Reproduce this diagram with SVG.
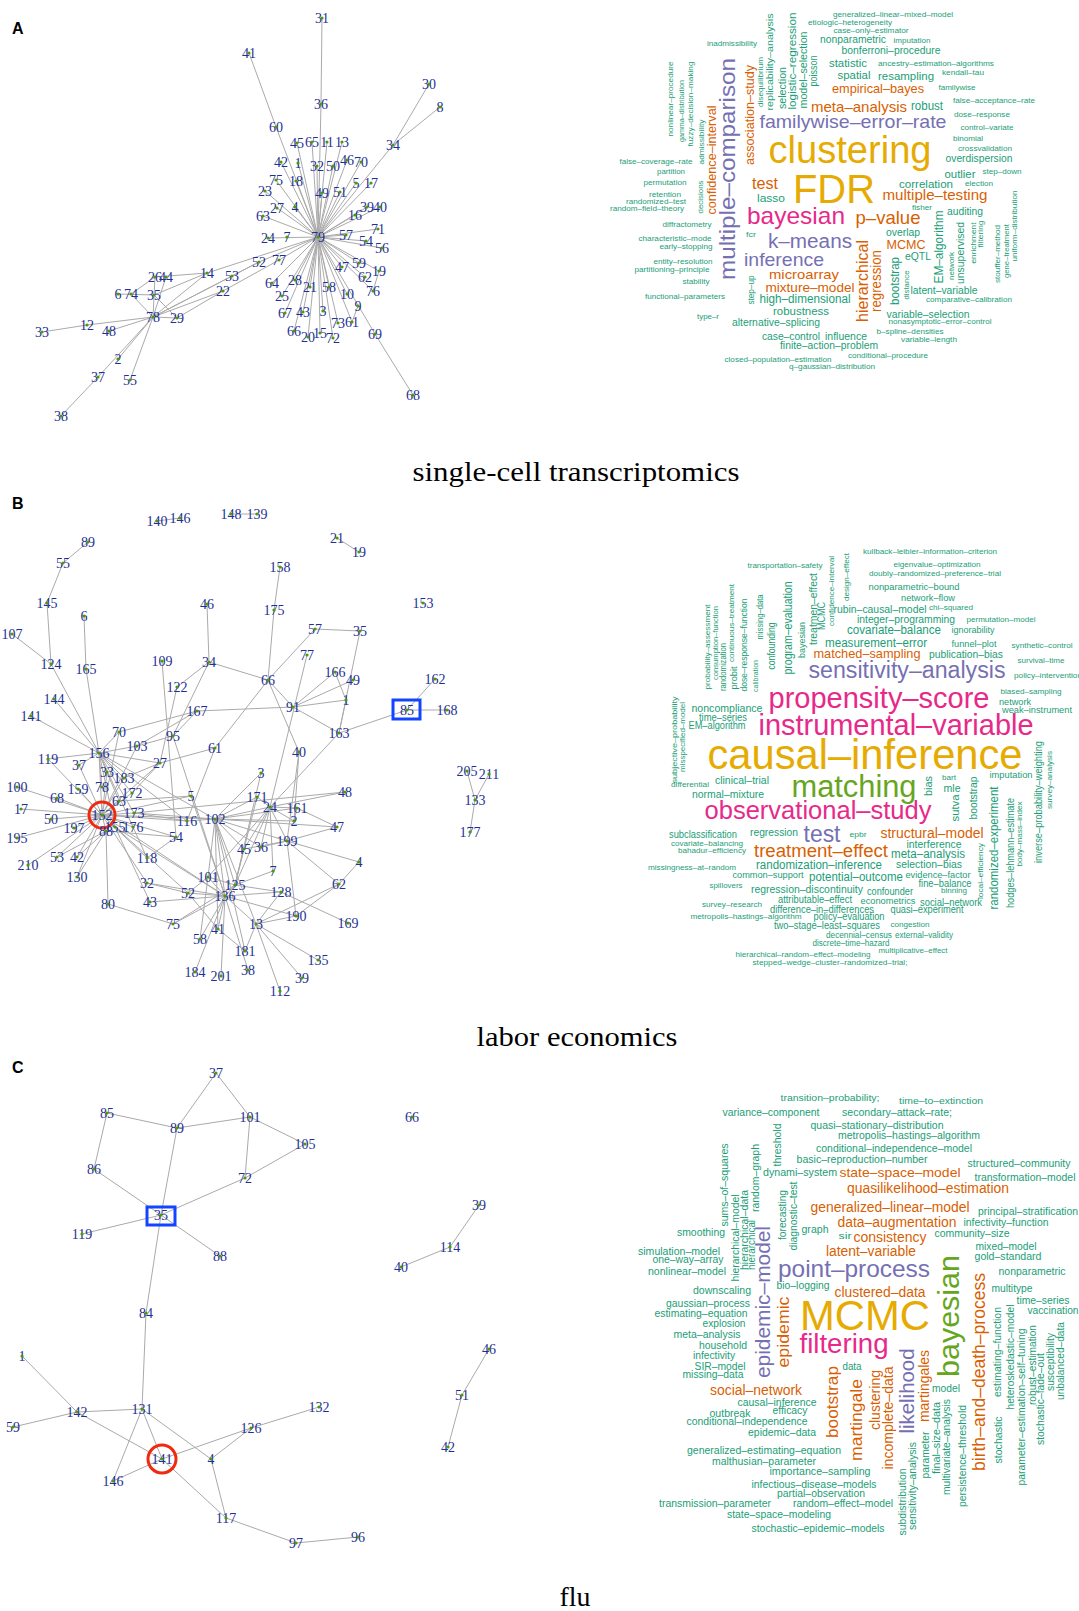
<svg xmlns="http://www.w3.org/2000/svg" width="1079" height="1611" viewBox="0 0 1079 1611">
<style>
.bg{fill:#fff}
.e line{stroke:#aaa;stroke-width:1}
.n text{font-family:"Liberation Serif","Times New Roman",serif;font-size:14px;fill:#1f2f95;text-anchor:middle;dominant-baseline:central}
.n circle{fill:#4e9a06}
.n .hl{fill:none;stroke-width:3}
.n .red{stroke:#f02a10}.n .blue{stroke:#1444ff}
.pl{font-family:"Liberation Sans",Arial,sans-serif;font-weight:bold;font-size:16px;fill:#000}
.cap{font-family:"Liberation Serif","Times New Roman",serif;font-size:28px;fill:#000;text-anchor:middle}
.wc text{font-family:"Liberation Sans",Arial,sans-serif;text-anchor:middle}
.g{fill:#1B9E77}.o{fill:#D95F02}.p{fill:#7570B3}.k{fill:#E7298A}.y{fill:#E6AB02}.l{fill:#66A61E}
</style>
<rect class="bg" x="0" y="0" width="1079" height="1611"/>
<text class="pl" x="12" y="34">A</text>
<text class="pl" x="12" y="509">B</text>
<text class="pl" x="12" y="1073">C</text>
<text class="cap" x="576" y="481" textLength="327" lengthAdjust="spacingAndGlyphs">single-cell transcriptomics</text>
<text class="cap" x="577" y="1046" textLength="201" lengthAdjust="spacingAndGlyphs">labor economics</text>
<text class="cap" x="575" y="1606" textLength="31" lengthAdjust="spacingAndGlyphs">flu</text>

<g id="edges-a" class="e">
<line x1="322" y1="18" x2="321" y2="104"/><line x1="321" y1="104" x2="318" y2="237"/>
<line x1="249" y1="53" x2="276" y2="127"/><line x1="276" y1="127" x2="318" y2="237"/>
<line x1="429" y1="84" x2="393" y2="145"/><line x1="440" y1="107" x2="393" y2="145"/><line x1="393" y1="145" x2="318" y2="237"/>
<line x1="318" y1="237" x2="297" y2="143"/><line x1="318" y1="237" x2="312" y2="142"/><line x1="318" y1="237" x2="327" y2="142"/><line x1="318" y1="237" x2="342" y2="142"/>
<line x1="318" y1="237" x2="281" y2="162"/><line x1="318" y1="237" x2="298" y2="163"/><line x1="318" y1="237" x2="317" y2="166"/><line x1="318" y1="237" x2="333" y2="166"/>
<line x1="318" y1="237" x2="347" y2="160"/><line x1="318" y1="237" x2="361" y2="162"/><line x1="318" y1="237" x2="276" y2="180"/><line x1="318" y1="237" x2="296" y2="181"/>
<line x1="318" y1="237" x2="356" y2="183"/><line x1="318" y1="237" x2="371" y2="183"/><line x1="318" y1="237" x2="265" y2="191"/><line x1="318" y1="237" x2="322" y2="193"/>
<line x1="318" y1="237" x2="340" y2="192"/><line x1="318" y1="237" x2="277" y2="208"/><line x1="318" y1="237" x2="295" y2="207"/><line x1="318" y1="237" x2="367" y2="207"/>
<line x1="318" y1="237" x2="380" y2="207"/><line x1="318" y1="237" x2="355" y2="215"/><line x1="318" y1="237" x2="263" y2="216"/><line x1="318" y1="237" x2="378" y2="229"/>
<line x1="268" y1="238" x2="318" y2="237"/><line x1="318" y1="237" x2="346" y2="235"/><line x1="318" y1="237" x2="366" y2="241"/><line x1="318" y1="237" x2="382" y2="248"/>
<line x1="318" y1="237" x2="359" y2="263"/><line x1="318" y1="237" x2="379" y2="271"/><line x1="318" y1="237" x2="342" y2="267"/><line x1="318" y1="237" x2="365" y2="277"/>
<line x1="318" y1="237" x2="373" y2="291"/><line x1="318" y1="237" x2="272" y2="283"/><line x1="318" y1="237" x2="295" y2="280"/><line x1="318" y1="237" x2="310" y2="287"/>
<line x1="318" y1="237" x2="329" y2="287"/><line x1="318" y1="237" x2="347" y2="294"/><line x1="318" y1="237" x2="282" y2="296"/><line x1="318" y1="237" x2="285" y2="313"/>
<line x1="318" y1="237" x2="303" y2="312"/><line x1="318" y1="237" x2="323" y2="311"/><line x1="318" y1="237" x2="338" y2="323"/><line x1="318" y1="237" x2="352" y2="322"/>
<line x1="318" y1="237" x2="294" y2="331"/><line x1="318" y1="237" x2="308" y2="337"/><line x1="318" y1="237" x2="320" y2="333"/><line x1="318" y1="237" x2="333" y2="338"/>
<line x1="318" y1="237" x2="375" y2="334"/><line x1="375" y1="334" x2="413" y2="395"/><line x1="358" y1="306" x2="352" y2="322"/><line x1="379" y1="271" x2="373" y2="291"/>
<line x1="318" y1="237" x2="207" y2="273"/><line x1="318" y1="237" x2="259" y2="262"/><line x1="318" y1="237" x2="279" y2="260"/>
<line x1="259" y1="262" x2="232" y2="276"/><line x1="279" y1="260" x2="223" y2="291"/>
<line x1="153" y1="317" x2="207" y2="273"/><line x1="153" y1="317" x2="232" y2="276"/><line x1="153" y1="317" x2="223" y2="291"/><line x1="153" y1="317" x2="259" y2="262"/>
<line x1="177" y1="318" x2="223" y2="291"/><line x1="155" y1="277" x2="207" y2="273"/><line x1="131" y1="294" x2="155" y2="277"/>
<line x1="155" y1="277" x2="153" y2="317"/><line x1="166" y1="277" x2="153" y2="317"/><line x1="118" y1="294" x2="154" y2="295"/><line x1="131" y1="294" x2="153" y2="317"/>
<line x1="154" y1="295" x2="177" y2="318"/><line x1="154" y1="295" x2="207" y2="273"/><line x1="153" y1="317" x2="177" y2="318"/>
<line x1="153" y1="317" x2="87" y2="325"/><line x1="87" y1="325" x2="42" y2="332"/><line x1="153" y1="317" x2="109" y2="331"/>
<line x1="153" y1="317" x2="118" y2="359"/><line x1="153" y1="317" x2="98" y2="377"/><line x1="98" y1="377" x2="61" y2="416"/><line x1="153" y1="317" x2="130" y2="380"/>
</g>

<g id="nodes-a" class="n">
<g id="a79"><text x="318" y="237">79</text><circle cx="318" cy="237" r="1.6"/></g>
<g id="a31"><text x="322" y="18">31</text><circle cx="322" cy="18" r="1.6"/></g>
<g id="a41"><text x="249" y="53">41</text><circle cx="249" cy="53" r="1.6"/></g>
<g id="a36"><text x="321" y="104">36</text><circle cx="321" cy="104" r="1.6"/></g>
<g id="a30"><text x="429" y="84">30</text><circle cx="429" cy="84" r="1.6"/></g>
<g id="a8"><text x="440" y="107">8</text><circle cx="440" cy="107" r="1.6"/></g>
<g id="a34"><text x="393" y="145">34</text><circle cx="393" cy="145" r="1.6"/></g>
<g id="a60"><text x="276" y="127">60</text><circle cx="276" cy="127" r="1.6"/></g>
<g id="a45"><text x="297" y="143">45</text><circle cx="297" cy="143" r="1.6"/></g>
<g id="a65"><text x="312" y="142">65</text><circle cx="312" cy="142" r="1.6"/></g>
<g id="a11"><text x="327" y="142">11</text><circle cx="327" cy="142" r="1.6"/></g>
<g id="a13"><text x="342" y="142">13</text><circle cx="342" cy="142" r="1.6"/></g>
<g id="a42"><text x="281" y="162">42</text><circle cx="281" cy="162" r="1.6"/></g>
<g id="a1"><text x="298" y="163">1</text><circle cx="298" cy="163" r="1.6"/></g>
<g id="a32"><text x="317" y="166">32</text><circle cx="317" cy="166" r="1.6"/></g>
<g id="a50"><text x="333" y="166">50</text><circle cx="333" cy="166" r="1.6"/></g>
<g id="a46"><text x="347" y="160">46</text><circle cx="347" cy="160" r="1.6"/></g>
<g id="a70"><text x="361" y="162">70</text><circle cx="361" cy="162" r="1.6"/></g>
<g id="a75"><text x="276" y="180">75</text><circle cx="276" cy="180" r="1.6"/></g>
<g id="a18"><text x="296" y="181">18</text><circle cx="296" cy="181" r="1.6"/></g>
<g id="a5"><text x="356" y="183">5</text><circle cx="356" cy="183" r="1.6"/></g>
<g id="a17"><text x="371" y="183">17</text><circle cx="371" cy="183" r="1.6"/></g>
<g id="a23"><text x="265" y="191">23</text><circle cx="265" cy="191" r="1.6"/></g>
<g id="a49"><text x="322" y="193">49</text><circle cx="322" cy="193" r="1.6"/></g>
<g id="a51"><text x="340" y="192">51</text><circle cx="340" cy="192" r="1.6"/></g>
<g id="a27"><text x="277" y="208">27</text><circle cx="277" cy="208" r="1.6"/></g>
<g id="a4"><text x="295" y="207">4</text><circle cx="295" cy="207" r="1.6"/></g>
<g id="a39"><text x="367" y="207">39</text><circle cx="367" cy="207" r="1.6"/></g>
<g id="a40"><text x="380" y="207">40</text><circle cx="380" cy="207" r="1.6"/></g>
<g id="a16"><text x="355" y="215">16</text><circle cx="355" cy="215" r="1.6"/></g>
<g id="a63"><text x="263" y="216">63</text><circle cx="263" cy="216" r="1.6"/></g>
<g id="a71"><text x="378" y="229">71</text><circle cx="378" cy="229" r="1.6"/></g>
<g id="a24"><text x="268" y="238">24</text><circle cx="268" cy="238" r="1.6"/></g>
<g id="a7"><text x="287" y="237">7</text><circle cx="287" cy="237" r="1.6"/></g>
<g id="a57"><text x="346" y="235">57</text><circle cx="346" cy="235" r="1.6"/></g>
<g id="a54"><text x="366" y="241">54</text><circle cx="366" cy="241" r="1.6"/></g>
<g id="a56"><text x="382" y="248">56</text><circle cx="382" cy="248" r="1.6"/></g>
<g id="a52"><text x="259" y="262">52</text><circle cx="259" cy="262" r="1.6"/></g>
<g id="a77"><text x="279" y="260">77</text><circle cx="279" cy="260" r="1.6"/></g>
<g id="a59"><text x="359" y="263">59</text><circle cx="359" cy="263" r="1.6"/></g>
<g id="a19"><text x="379" y="271">19</text><circle cx="379" cy="271" r="1.6"/></g>
<g id="a47"><text x="342" y="267">47</text><circle cx="342" cy="267" r="1.6"/></g>
<g id="a62"><text x="365" y="277">62</text><circle cx="365" cy="277" r="1.6"/></g>
<g id="a76"><text x="373" y="291">76</text><circle cx="373" cy="291" r="1.6"/></g>
<g id="a64"><text x="272" y="283">64</text><circle cx="272" cy="283" r="1.6"/></g>
<g id="a28"><text x="295" y="280">28</text><circle cx="295" cy="280" r="1.6"/></g>
<g id="a21"><text x="310" y="287">21</text><circle cx="310" cy="287" r="1.6"/></g>
<g id="a58"><text x="329" y="287">58</text><circle cx="329" cy="287" r="1.6"/></g>
<g id="a10"><text x="347" y="294">10</text><circle cx="347" cy="294" r="1.6"/></g>
<g id="a9"><text x="358" y="306">9</text><circle cx="358" cy="306" r="1.6"/></g>
<g id="a25"><text x="282" y="296">25</text><circle cx="282" cy="296" r="1.6"/></g>
<g id="a67"><text x="285" y="313">67</text><circle cx="285" cy="313" r="1.6"/></g>
<g id="a43"><text x="303" y="312">43</text><circle cx="303" cy="312" r="1.6"/></g>
<g id="a3"><text x="323" y="311">3</text><circle cx="323" cy="311" r="1.6"/></g>
<g id="a73"><text x="338" y="323">73</text><circle cx="338" cy="323" r="1.6"/></g>
<g id="a61"><text x="352" y="322">61</text><circle cx="352" cy="322" r="1.6"/></g>
<g id="a69"><text x="375" y="334">69</text><circle cx="375" cy="334" r="1.6"/></g>
<g id="a66"><text x="294" y="331">66</text><circle cx="294" cy="331" r="1.6"/></g>
<g id="a20"><text x="308" y="337">20</text><circle cx="308" cy="337" r="1.6"/></g>
<g id="a15"><text x="320" y="333">15</text><circle cx="320" cy="333" r="1.6"/></g>
<g id="a72"><text x="333" y="338">72</text><circle cx="333" cy="338" r="1.6"/></g>
<g id="a68"><text x="413" y="395">68</text><circle cx="413" cy="395" r="1.6"/></g>
<g id="a14"><text x="207" y="273">14</text><circle cx="207" cy="273" r="1.6"/></g>
<g id="a53"><text x="232" y="276">53</text><circle cx="232" cy="276" r="1.6"/></g>
<g id="a22"><text x="223" y="291">22</text><circle cx="223" cy="291" r="1.6"/></g>
<g id="a26"><text x="155" y="277">26</text><circle cx="155" cy="277" r="1.6"/></g>
<g id="a44"><text x="166" y="277">44</text><circle cx="166" cy="277" r="1.6"/></g>
<g id="a6"><text x="118" y="294">6</text><circle cx="118" cy="294" r="1.6"/></g>
<g id="a74"><text x="131" y="294">74</text><circle cx="131" cy="294" r="1.6"/></g>
<g id="a35"><text x="154" y="295">35</text><circle cx="154" cy="295" r="1.6"/></g>
<g id="a78"><text x="153" y="317">78</text><circle cx="153" cy="317" r="1.6"/></g>
<g id="a29"><text x="177" y="318">29</text><circle cx="177" cy="318" r="1.6"/></g>
<g id="a12"><text x="87" y="325">12</text><circle cx="87" cy="325" r="1.6"/></g>
<g id="a33"><text x="42" y="332">33</text><circle cx="42" cy="332" r="1.6"/></g>
<g id="a48"><text x="109" y="331">48</text><circle cx="109" cy="331" r="1.6"/></g>
<g id="a2"><text x="118" y="359">2</text><circle cx="118" cy="359" r="1.6"/></g>
<g id="a37"><text x="98" y="377">37</text><circle cx="98" cy="377" r="1.6"/></g>
<g id="a55"><text x="130" y="380">55</text><circle cx="130" cy="380" r="1.6"/></g>
<g id="a38"><text x="61" y="416">38</text><circle cx="61" cy="416" r="1.6"/></g>
</g>

<g id="wordcloud-a" class="wc">
<text class="g" x="893" y="17" font-size="8" textLength="120" lengthAdjust="spacingAndGlyphs">generalized–linear–mixed–model</text>
<text class="g" x="850" y="25" font-size="8" textLength="84" lengthAdjust="spacingAndGlyphs">etiologic–heterogeneity</text>
<text class="g" x="871" y="33" font-size="8" textLength="75" lengthAdjust="spacingAndGlyphs">case–only–estimator</text>
<text class="g" x="853" y="43" font-size="10.5" textLength="66" lengthAdjust="spacingAndGlyphs">nonparametric</text>
<text class="g" x="912" y="43" font-size="8" textLength="37" lengthAdjust="spacingAndGlyphs">imputation</text>
<text class="g" x="891" y="54" font-size="10" textLength="99" lengthAdjust="spacingAndGlyphs">bonferroni–procedure</text>
<text class="g" x="848" y="67" font-size="11" textLength="38" lengthAdjust="spacingAndGlyphs">statistic</text>
<text class="g" x="936" y="66" font-size="8" textLength="116" lengthAdjust="spacingAndGlyphs">ancestry–estimation–algorithms</text>
<text class="g" x="854" y="79" font-size="11" textLength="33" lengthAdjust="spacingAndGlyphs">spatial</text>
<text class="g" x="906" y="80" font-size="11.5" textLength="56" lengthAdjust="spacingAndGlyphs">resampling</text>
<text class="g" x="963" y="75" font-size="8" textLength="42" lengthAdjust="spacingAndGlyphs">kendall–tau</text>
<text class="o" x="878" y="93" font-size="13" textLength="92" lengthAdjust="spacingAndGlyphs">empirical–bayes</text>
<text class="g" x="957" y="90" font-size="8" textLength="37" lengthAdjust="spacingAndGlyphs">familywise</text>
<text class="g" x="994" y="103" font-size="8" textLength="82" lengthAdjust="spacingAndGlyphs">false–acceptance–rate</text>
<text class="o" x="859" y="112" font-size="15" textLength="96" lengthAdjust="spacingAndGlyphs">meta–analysis</text>
<text class="g" x="927" y="110" font-size="12" textLength="32" lengthAdjust="spacingAndGlyphs">robust</text>
<text class="g" x="982" y="117" font-size="8" textLength="56" lengthAdjust="spacingAndGlyphs">dose–response</text>
<text class="p" x="853" y="128" font-size="19" textLength="187" lengthAdjust="spacingAndGlyphs">familywise–error–rate</text>
<text class="g" x="987" y="130" font-size="8" textLength="53" lengthAdjust="spacingAndGlyphs">control–variate</text>
<text class="g" x="968" y="141" font-size="8" textLength="30" lengthAdjust="spacingAndGlyphs">binomial</text>
<text class="g" x="985" y="151" font-size="8" textLength="54" lengthAdjust="spacingAndGlyphs">crossvalidation</text>
<text class="y" x="850" y="163" font-size="38" textLength="163" lengthAdjust="spacingAndGlyphs">clustering</text>
<text class="g" x="979" y="162" font-size="10" textLength="67" lengthAdjust="spacingAndGlyphs">overdispersion</text>
<text class="g" x="732" y="46" font-size="8" textLength="50" lengthAdjust="spacingAndGlyphs">inadmissibility</text>
<text class="g" x="656" y="164" font-size="8" textLength="73" lengthAdjust="spacingAndGlyphs">false–coverage–rate</text>
<text class="g" x="671" y="174" font-size="8" textLength="28" lengthAdjust="spacingAndGlyphs">partition</text>
<text class="g" x="665" y="185" font-size="8" textLength="43" lengthAdjust="spacingAndGlyphs">permutation</text>
<text class="g" x="665" y="197" font-size="8" textLength="32" lengthAdjust="spacingAndGlyphs">retention</text>
<text class="g" x="656" y="204" font-size="8" textLength="60" lengthAdjust="spacingAndGlyphs">randomized–test</text>
<text class="g" x="647" y="211" font-size="8" textLength="74" lengthAdjust="spacingAndGlyphs">random–field–theory</text>
<text class="g" x="960" y="178" font-size="11" textLength="31" lengthAdjust="spacingAndGlyphs">outlier</text>
<text class="g" x="1002" y="174" font-size="8" textLength="39" lengthAdjust="spacingAndGlyphs">step–down</text>
<text class="g" x="926" y="188" font-size="11" textLength="54" lengthAdjust="spacingAndGlyphs">correlation</text>
<text class="g" x="979" y="186" font-size="8" textLength="28" lengthAdjust="spacingAndGlyphs">election</text>
<text class="o" x="765" y="189" font-size="16" textLength="26" lengthAdjust="spacingAndGlyphs">test</text>
<text class="y" x="834" y="203" font-size="40" textLength="82" lengthAdjust="spacingAndGlyphs">FDR</text>
<text class="o" x="935" y="200" font-size="15" textLength="105" lengthAdjust="spacingAndGlyphs">multiple–testing</text>
<text class="g" x="771" y="202" font-size="11" textLength="28" lengthAdjust="spacingAndGlyphs">lasso</text>
<text class="g" x="922" y="210" font-size="8" textLength="20" lengthAdjust="spacingAndGlyphs">fisher</text>
<text class="g" x="965" y="215" font-size="10" textLength="36" lengthAdjust="spacingAndGlyphs">auditing</text>
<text class="k" x="796" y="224" font-size="24" textLength="98" lengthAdjust="spacingAndGlyphs">bayesian</text>
<text class="o" x="888" y="224" font-size="19" textLength="65" lengthAdjust="spacingAndGlyphs">p–value</text>
<text class="g" x="687" y="227" font-size="8" textLength="49" lengthAdjust="spacingAndGlyphs">diffractometry</text>
<text class="g" x="751" y="237" font-size="7" textLength="10" lengthAdjust="spacingAndGlyphs">fcr</text>
<text class="g" x="675" y="241" font-size="8" textLength="73" lengthAdjust="spacingAndGlyphs">characteristic–mode</text>
<text class="g" x="686" y="249" font-size="8" textLength="53" lengthAdjust="spacingAndGlyphs">early–stopping</text>
<text class="g" x="903" y="236" font-size="10" textLength="34" lengthAdjust="spacingAndGlyphs">overlap</text>
<text class="o" x="906" y="249" font-size="13" textLength="39" lengthAdjust="spacingAndGlyphs">MCMC</text>
<text class="p" x="810" y="248" font-size="20" textLength="84" lengthAdjust="spacingAndGlyphs">k–means</text>
<text class="g" x="918" y="260" font-size="10" textLength="26" lengthAdjust="spacingAndGlyphs">eQTL</text>
<text class="p" x="784" y="266" font-size="19" textLength="80" lengthAdjust="spacingAndGlyphs">inference</text>
<text class="g" x="683" y="264" font-size="8" textLength="59" lengthAdjust="spacingAndGlyphs">entity–resolution</text>
<text class="g" x="672" y="272" font-size="8" textLength="75" lengthAdjust="spacingAndGlyphs">partitioning–principle</text>
<text class="o" x="804" y="279" font-size="13" textLength="70" lengthAdjust="spacingAndGlyphs">microarray</text>
<text class="g" x="696" y="284" font-size="8" textLength="27" lengthAdjust="spacingAndGlyphs">stability</text>
<text class="o" x="810" y="292" font-size="12" textLength="89" lengthAdjust="spacingAndGlyphs">mixture–model</text>
<text class="g" x="944" y="294" font-size="11" textLength="67" lengthAdjust="spacingAndGlyphs">latent–variable</text>
<text class="g" x="685" y="299" font-size="8" textLength="80" lengthAdjust="spacingAndGlyphs">functional–parameters</text>
<text class="g" x="969" y="302" font-size="8" textLength="86" lengthAdjust="spacingAndGlyphs">comparative–calibration</text>
<text class="g" x="805" y="303" font-size="12" textLength="91" lengthAdjust="spacingAndGlyphs">high–dimensional</text>
<text class="g" x="801" y="315" font-size="10.5" textLength="56" lengthAdjust="spacingAndGlyphs">robustness</text>
<text class="g" x="928" y="318" font-size="11" textLength="83" lengthAdjust="spacingAndGlyphs">variable–selection</text>
<text class="g" x="708" y="319" font-size="7.5" textLength="22" lengthAdjust="spacingAndGlyphs">type–r</text>
<text class="g" x="776" y="326" font-size="10" textLength="88" lengthAdjust="spacingAndGlyphs">alternative–splicing</text>
<text class="g" x="940" y="324" font-size="8" textLength="103" lengthAdjust="spacingAndGlyphs">nonasymptotic–error–control</text>
<text class="g" x="910" y="334" font-size="8" textLength="67" lengthAdjust="spacingAndGlyphs">b–spline–densities</text>
<text class="g" x="791" y="340" font-size="10" textLength="58" lengthAdjust="spacingAndGlyphs">case–control</text>
<text class="g" x="846" y="340" font-size="10" textLength="42" lengthAdjust="spacingAndGlyphs">influence</text>
<text class="g" x="929" y="342" font-size="8" textLength="56" lengthAdjust="spacingAndGlyphs">variable–length</text>
<text class="g" x="829" y="349" font-size="10" textLength="98" lengthAdjust="spacingAndGlyphs">finite–action–problem</text>
<text class="g" x="888" y="358" font-size="8" textLength="80" lengthAdjust="spacingAndGlyphs">conditional–procedure</text>
<text class="g" x="778" y="362" font-size="8" textLength="107" lengthAdjust="spacingAndGlyphs">closed–population–estimation</text>
<text class="g" x="832" y="369" font-size="8" textLength="86" lengthAdjust="spacingAndGlyphs">q–gaussian–distribution</text>
<text class="g" transform="translate(670,99) rotate(-90)" dy=".35em" font-size="8" textLength="75" lengthAdjust="spacingAndGlyphs">nonlinear–procedure</text>
<text class="g" transform="translate(681,111) rotate(-90)" dy=".35em" font-size="8" textLength="62" lengthAdjust="spacingAndGlyphs">gamma–distribution</text>
<text class="g" transform="translate(690,104) rotate(-90)" dy=".35em" font-size="8" textLength="85" lengthAdjust="spacingAndGlyphs">fuzzy–decision–making</text>
<text class="g" transform="translate(701,142) rotate(-90)" dy=".35em" font-size="8" textLength="45" lengthAdjust="spacingAndGlyphs">admissibility</text>
<text class="g" transform="translate(700,197) rotate(-90)" dy=".35em" font-size="8" textLength="33" lengthAdjust="spacingAndGlyphs">decisions</text>
<text class="o" transform="translate(712,160) rotate(-90)" dy=".35em" font-size="12" textLength="109" lengthAdjust="spacingAndGlyphs">confidence–interval</text>
<text class="p" transform="translate(727,169) rotate(-90)" dy=".35em" font-size="22" textLength="222" lengthAdjust="spacingAndGlyphs">multiple–comparison</text>
<text class="o" transform="translate(750,115) rotate(-90)" dy=".35em" font-size="12" textLength="100" lengthAdjust="spacingAndGlyphs">association–study</text>
<text class="g" transform="translate(760,82) rotate(-90)" dy=".35em" font-size="8" textLength="50" lengthAdjust="spacingAndGlyphs">disequilibrium</text>
<text class="g" transform="translate(770,62) rotate(-90)" dy=".35em" font-size="9" textLength="97" lengthAdjust="spacingAndGlyphs">replicability–analysis</text>
<text class="g" transform="translate(782,88) rotate(-90)" dy=".35em" font-size="10" textLength="42" lengthAdjust="spacingAndGlyphs">selection</text>
<text class="g" transform="translate(792,61) rotate(-90)" dy=".35em" font-size="11" textLength="97" lengthAdjust="spacingAndGlyphs">logistic–regression</text>
<text class="g" transform="translate(803,70) rotate(-90)" dy=".35em" font-size="10" textLength="77" lengthAdjust="spacingAndGlyphs">model–selection</text>
<text class="g" transform="translate(813,71) rotate(-90)" dy=".35em" font-size="11" textLength="31" lengthAdjust="spacingAndGlyphs">poisson</text>
<text class="g" transform="translate(751,290) rotate(-90)" dy=".35em" font-size="9" textLength="29" lengthAdjust="spacingAndGlyphs">step–up</text>
<text class="o" transform="translate(862,281) rotate(-90)" dy=".35em" font-size="16" textLength="82" lengthAdjust="spacingAndGlyphs">hierarchical</text>
<text class="o" transform="translate(876,281) rotate(-90)" dy=".35em" font-size="15" textLength="62" lengthAdjust="spacingAndGlyphs">regression</text>
<text class="g" transform="translate(895,281) rotate(-90)" dy=".35em" font-size="12" textLength="48" lengthAdjust="spacingAndGlyphs">bootstrap</text>
<text class="g" transform="translate(906,285) rotate(-90)" dy=".35em" font-size="8" textLength="29" lengthAdjust="spacingAndGlyphs">distance</text>
<text class="g" transform="translate(939,247) rotate(-90)" dy=".35em" font-size="12" textLength="73" lengthAdjust="spacingAndGlyphs">EM–algorithm</text>
<text class="g" transform="translate(951,266) rotate(-90)" dy=".35em" font-size="8" textLength="28" lengthAdjust="spacingAndGlyphs">network</text>
<text class="g" transform="translate(960,253) rotate(-90)" dy=".35em" font-size="10" textLength="62" lengthAdjust="spacingAndGlyphs">unsupervised</text>
<text class="g" transform="translate(973,243) rotate(-90)" dy=".35em" font-size="8" textLength="41" lengthAdjust="spacingAndGlyphs">enrichment</text>
<text class="g" transform="translate(980,234) rotate(-90)" dy=".35em" font-size="8" textLength="27" lengthAdjust="spacingAndGlyphs">filtering</text>
<text class="g" transform="translate(997,254) rotate(-90)" dy=".35em" font-size="8" textLength="58" lengthAdjust="spacingAndGlyphs">stouffer–method</text>
<text class="g" transform="translate(1006,251) rotate(-90)" dy=".35em" font-size="8" textLength="54" lengthAdjust="spacingAndGlyphs">gene–treatment</text>
<text class="g" transform="translate(1014,226) rotate(-90)" dy=".35em" font-size="8" textLength="71" lengthAdjust="spacingAndGlyphs">uniform–distribution</text>
</g>

<g id="edges-b" class="e">
<line x1="157" y1="521" x2="180" y2="518"/><line x1="231" y1="514" x2="257" y2="514"/><line x1="337" y1="538" x2="359" y2="552"/>
<line x1="467" y1="771" x2="475" y2="800"/><line x1="489" y1="774" x2="475" y2="800"/><line x1="475" y1="800" x2="470" y2="832"/>
<line x1="88" y1="542" x2="63" y2="563"/><line x1="63" y1="563" x2="47" y2="603"/><line x1="47" y1="603" x2="51" y2="664"/><line x1="12" y1="634" x2="51" y2="664"/>
<line x1="51" y1="664" x2="99" y2="753"/><line x1="84" y1="616" x2="86" y2="669"/><line x1="86" y1="669" x2="99" y2="753"/><line x1="54" y1="699" x2="99" y2="753"/>
<line x1="31" y1="716" x2="99" y2="753"/><line x1="119" y1="732" x2="99" y2="753"/><line x1="48" y1="759" x2="99" y2="753"/><line x1="99" y1="753" x2="79" y2="765"/>
<line x1="99" y1="753" x2="107" y2="772"/><line x1="99" y1="753" x2="102" y2="787"/><line x1="99" y1="753" x2="124" y2="778"/><line x1="99" y1="753" x2="132" y2="793"/>
<line x1="99" y1="753" x2="119" y2="801"/><line x1="99" y1="753" x2="102" y2="815"/><line x1="99" y1="753" x2="134" y2="813"/><line x1="99" y1="753" x2="137" y2="746"/>
<line x1="99" y1="753" x2="160" y2="763"/><line x1="99" y1="753" x2="187" y2="821"/><line x1="99" y1="753" x2="215" y2="819"/><line x1="99" y1="753" x2="133" y2="827"/>
<line x1="99" y1="753" x2="115" y2="827"/>
<line x1="207" y1="604" x2="209" y2="662"/><line x1="209" y1="662" x2="177" y2="687"/><line x1="209" y1="662" x2="268" y2="680"/><line x1="209" y1="662" x2="173" y2="736"/>
<line x1="177" y1="687" x2="160" y2="763"/><line x1="162" y1="661" x2="176" y2="837"/>
<line x1="280" y1="567" x2="274" y2="610"/><line x1="274" y1="610" x2="268" y2="680"/><line x1="315" y1="629" x2="360" y2="631"/><line x1="315" y1="629" x2="268" y2="680"/>
<line x1="360" y1="631" x2="339" y2="733"/><line x1="268" y1="680" x2="293" y2="707"/><line x1="268" y1="680" x2="299" y2="752"/><line x1="268" y1="680" x2="215" y2="748"/>
<line x1="215" y1="748" x2="160" y2="763"/><line x1="215" y1="748" x2="187" y2="821"/>
<line x1="293" y1="707" x2="335" y2="672"/><line x1="293" y1="707" x2="353" y2="680"/><line x1="293" y1="707" x2="346" y2="700"/><line x1="293" y1="707" x2="197" y2="711"/>
<line x1="293" y1="707" x2="339" y2="733"/><line x1="335" y1="672" x2="346" y2="700"/><line x1="346" y1="700" x2="339" y2="733"/>
<line x1="407" y1="710" x2="435" y2="679"/><line x1="407" y1="710" x2="447" y2="710"/><line x1="407" y1="710" x2="339" y2="733"/><line x1="339" y1="733" x2="270" y2="807"/>
<line x1="307" y1="655" x2="270" y2="807"/><line x1="261" y1="773" x2="215" y2="819"/><line x1="261" y1="773" x2="235" y2="885"/>
<line x1="299" y1="752" x2="294" y2="821"/><line x1="299" y1="752" x2="287" y2="841"/>
<line x1="197" y1="711" x2="119" y2="732"/><line x1="197" y1="711" x2="137" y2="746"/><line x1="197" y1="711" x2="173" y2="736"/><line x1="173" y1="736" x2="137" y2="746"/>
<line x1="173" y1="736" x2="225" y2="896"/>
<line x1="102" y1="815" x2="17" y2="787"/><line x1="102" y1="815" x2="21" y2="809"/><line x1="102" y1="815" x2="57" y2="798"/><line x1="102" y1="815" x2="51" y2="819"/>
<line x1="102" y1="815" x2="17" y2="838"/><line x1="102" y1="815" x2="74" y2="828"/><line x1="102" y1="815" x2="28" y2="865"/><line x1="102" y1="815" x2="57" y2="857"/>
<line x1="102" y1="815" x2="77" y2="857"/><line x1="102" y1="815" x2="77" y2="877"/><line x1="102" y1="815" x2="48" y2="759"/><line x1="102" y1="815" x2="79" y2="765"/>
<line x1="102" y1="815" x2="78" y2="789"/><line x1="102" y1="815" x2="107" y2="772"/><line x1="102" y1="815" x2="124" y2="778"/><line x1="102" y1="815" x2="132" y2="793"/>
<line x1="102" y1="815" x2="119" y2="801"/><line x1="102" y1="815" x2="134" y2="813"/><line x1="102" y1="815" x2="133" y2="827"/><line x1="102" y1="815" x2="106" y2="831"/>
<line x1="102" y1="815" x2="187" y2="821"/><line x1="102" y1="815" x2="215" y2="819"/><line x1="102" y1="815" x2="191" y2="796"/><line x1="102" y1="815" x2="176" y2="837"/>
<line x1="102" y1="815" x2="147" y2="858"/><line x1="102" y1="815" x2="147" y2="883"/><line x1="102" y1="815" x2="188" y2="893"/><line x1="102" y1="815" x2="225" y2="896"/>
<line x1="102" y1="815" x2="160" y2="763"/><line x1="102" y1="815" x2="137" y2="746"/><line x1="102" y1="815" x2="119" y2="732"/><line x1="134" y1="813" x2="345" y2="792"/>
<line x1="106" y1="831" x2="108" y2="904"/><line x1="106" y1="831" x2="77" y2="857"/><line x1="106" y1="831" x2="57" y2="857"/><line x1="106" y1="831" x2="77" y2="877"/>
<line x1="106" y1="831" x2="176" y2="837"/><line x1="108" y1="904" x2="173" y2="924"/><line x1="173" y1="924" x2="225" y2="896"/><line x1="173" y1="924" x2="235" y2="885"/>
<line x1="115" y1="827" x2="150" y2="902"/><line x1="115" y1="827" x2="225" y2="896"/><line x1="133" y1="827" x2="147" y2="858"/><line x1="134" y1="813" x2="215" y2="819"/>
<line x1="134" y1="813" x2="187" y2="821"/><line x1="132" y1="793" x2="160" y2="763"/><line x1="124" y1="778" x2="160" y2="763"/><line x1="119" y1="801" x2="191" y2="796"/>
<line x1="215" y1="819" x2="187" y2="821"/><line x1="215" y1="819" x2="257" y2="797"/><line x1="215" y1="819" x2="270" y2="807"/><line x1="215" y1="819" x2="297" y2="808"/>
<line x1="215" y1="819" x2="294" y2="821"/><line x1="215" y1="819" x2="337" y2="827"/><line x1="215" y1="819" x2="287" y2="841"/><line x1="215" y1="819" x2="244" y2="849"/>
<line x1="215" y1="819" x2="261" y2="847"/><line x1="215" y1="819" x2="225" y2="896"/><line x1="215" y1="819" x2="208" y2="877"/><line x1="215" y1="819" x2="218" y2="929"/>
<line x1="215" y1="819" x2="245" y2="951"/><line x1="215" y1="819" x2="235" y2="885"/><line x1="215" y1="819" x2="256" y2="924"/>
<line x1="270" y1="807" x2="257" y2="797"/><line x1="270" y1="807" x2="297" y2="808"/><line x1="270" y1="807" x2="345" y2="792"/><line x1="270" y1="807" x2="294" y2="821"/>
<line x1="270" y1="807" x2="287" y2="841"/><line x1="270" y1="807" x2="244" y2="849"/><line x1="270" y1="807" x2="261" y2="847"/><line x1="270" y1="807" x2="235" y2="885"/>
<line x1="270" y1="807" x2="273" y2="871"/><line x1="270" y1="807" x2="208" y2="877"/><line x1="257" y1="797" x2="235" y2="885"/>
<line x1="297" y1="808" x2="337" y2="827"/><line x1="297" y1="808" x2="294" y2="821"/><line x1="287" y1="841" x2="337" y2="827"/><line x1="287" y1="841" x2="359" y2="862"/>
<line x1="287" y1="841" x2="339" y2="884"/><line x1="287" y1="841" x2="261" y2="847"/><line x1="287" y1="841" x2="244" y2="849"/><line x1="287" y1="841" x2="296" y2="916"/>
<line x1="359" y1="862" x2="339" y2="884"/><line x1="339" y1="884" x2="256" y2="924"/><line x1="296" y1="916" x2="339" y2="884"/>
<line x1="235" y1="885" x2="273" y2="871"/><line x1="235" y1="885" x2="225" y2="896"/><line x1="235" y1="885" x2="281" y2="892"/><line x1="235" y1="885" x2="208" y2="877"/>
<line x1="235" y1="885" x2="244" y2="849"/>
<line x1="225" y1="896" x2="188" y2="893"/><line x1="225" y1="896" x2="150" y2="902"/><line x1="225" y1="896" x2="147" y2="883"/><line x1="225" y1="896" x2="200" y2="939"/>
<line x1="225" y1="896" x2="195" y2="972"/><line x1="225" y1="896" x2="221" y2="976"/><line x1="225" y1="896" x2="218" y2="929"/><line x1="225" y1="896" x2="248" y2="970"/>
<line x1="225" y1="896" x2="256" y2="924"/><line x1="225" y1="896" x2="296" y2="916"/><line x1="225" y1="896" x2="281" y2="892"/><line x1="225" y1="896" x2="208" y2="877"/>
<line x1="225" y1="896" x2="191" y2="796"/>
<line x1="256" y1="924" x2="296" y2="916"/><line x1="256" y1="924" x2="318" y2="960"/><line x1="256" y1="924" x2="302" y2="978"/><line x1="256" y1="924" x2="280" y2="991"/>
<line x1="256" y1="924" x2="245" y2="951"/><line x1="256" y1="924" x2="281" y2="892"/><line x1="281" y1="892" x2="348" y2="923"/>
<line x1="188" y1="893" x2="147" y2="883"/><line x1="188" y1="893" x2="208" y2="877"/><line x1="188" y1="893" x2="218" y2="929"/><line x1="218" y1="929" x2="245" y2="951"/>
<line x1="208" y1="877" x2="200" y2="939"/><line x1="147" y1="858" x2="176" y2="837"/>
</g>

<g id="nodes-b" class="n">
<g id="b140"><text x="157" y="521">140</text><circle cx="157" cy="521" r="1.6"/></g>
<g id="b146"><text x="180" y="518">146</text><circle cx="180" cy="518" r="1.6"/></g>
<g id="b148"><text x="231" y="514">148</text><circle cx="231" cy="514" r="1.6"/></g>
<g id="b139"><text x="257" y="514">139</text><circle cx="257" cy="514" r="1.6"/></g>
<g id="b89"><text x="88" y="542">89</text><circle cx="88" cy="542" r="1.6"/></g>
<g id="b21"><text x="337" y="538">21</text><circle cx="337" cy="538" r="1.6"/></g>
<g id="b19"><text x="359" y="552">19</text><circle cx="359" cy="552" r="1.6"/></g>
<g id="b55"><text x="63" y="563">55</text><circle cx="63" cy="563" r="1.6"/></g>
<g id="b158"><text x="280" y="567">158</text><circle cx="280" cy="567" r="1.6"/></g>
<g id="b145"><text x="47" y="603">145</text><circle cx="47" cy="603" r="1.6"/></g>
<g id="b46"><text x="207" y="604">46</text><circle cx="207" cy="604" r="1.6"/></g>
<g id="b175"><text x="274" y="610">175</text><circle cx="274" cy="610" r="1.6"/></g>
<g id="b153"><text x="423" y="603">153</text><circle cx="423" cy="603" r="1.6"/></g>
<g id="b6"><text x="84" y="616">6</text><circle cx="84" cy="616" r="1.6"/></g>
<g id="b107"><text x="12" y="634">107</text><circle cx="12" cy="634" r="1.6"/></g>
<g id="b57"><text x="315" y="629">57</text><circle cx="315" cy="629" r="1.6"/></g>
<g id="b35"><text x="360" y="631">35</text><circle cx="360" cy="631" r="1.6"/></g>
<g id="b77"><text x="307" y="655">77</text><circle cx="307" cy="655" r="1.6"/></g>
<g id="b109"><text x="162" y="661">109</text><circle cx="162" cy="661" r="1.6"/></g>
<g id="b34"><text x="209" y="662">34</text><circle cx="209" cy="662" r="1.6"/></g>
<g id="b124"><text x="51" y="664">124</text><circle cx="51" cy="664" r="1.6"/></g>
<g id="b165"><text x="86" y="669">165</text><circle cx="86" cy="669" r="1.6"/></g>
<g id="b166"><text x="335" y="672">166</text><circle cx="335" cy="672" r="1.6"/></g>
<g id="b49"><text x="353" y="680">49</text><circle cx="353" cy="680" r="1.6"/></g>
<g id="b66"><text x="268" y="680">66</text><circle cx="268" cy="680" r="1.6"/></g>
<g id="b122"><text x="177" y="687">122</text><circle cx="177" cy="687" r="1.6"/></g>
<g id="b162"><text x="435" y="679">162</text><circle cx="435" cy="679" r="1.6"/></g>
<g id="b144"><text x="54" y="699">144</text><circle cx="54" cy="699" r="1.6"/></g>
<g id="b1"><text x="346" y="700">1</text><circle cx="346" cy="700" r="1.6"/></g>
<g id="b91"><text x="293" y="707">91</text><circle cx="293" cy="707" r="1.6"/></g>
<g id="b167"><text x="197" y="711">167</text><circle cx="197" cy="711" r="1.6"/></g>
<g id="b85"><text x="407" y="710">85</text><circle cx="407" cy="710" r="1.6"/><rect class="hl blue" x="393" y="700" width="27" height="19"/></g>
<g id="b168"><text x="447" y="710">168</text><circle cx="447" cy="710" r="1.6"/></g>
<g id="b141"><text x="31" y="716">141</text><circle cx="31" cy="716" r="1.6"/></g>
<g id="b70"><text x="119" y="732">70</text><circle cx="119" cy="732" r="1.6"/></g>
<g id="b163"><text x="339" y="733">163</text><circle cx="339" cy="733" r="1.6"/></g>
<g id="b95"><text x="173" y="736">95</text><circle cx="173" cy="736" r="1.6"/></g>
<g id="b103"><text x="137" y="746">103</text><circle cx="137" cy="746" r="1.6"/></g>
<g id="b61"><text x="215" y="748">61</text><circle cx="215" cy="748" r="1.6"/></g>
<g id="b40"><text x="299" y="752">40</text><circle cx="299" cy="752" r="1.6"/></g>
<g id="b156"><text x="99" y="753">156</text><circle cx="99" cy="753" r="1.6"/></g>
<g id="b119"><text x="48" y="759">119</text><circle cx="48" cy="759" r="1.6"/></g>
<g id="b37"><text x="79" y="765">37</text><circle cx="79" cy="765" r="1.6"/></g>
<g id="b27"><text x="160" y="763">27</text><circle cx="160" cy="763" r="1.6"/></g>
<g id="b33"><text x="107" y="772">33</text><circle cx="107" cy="772" r="1.6"/></g>
<g id="b183"><text x="124" y="778">183</text><circle cx="124" cy="778" r="1.6"/></g>
<g id="b100"><text x="17" y="787">100</text><circle cx="17" cy="787" r="1.6"/></g>
<g id="b159"><text x="78" y="789">159</text><circle cx="78" cy="789" r="1.6"/></g>
<g id="b78"><text x="102" y="787">78</text><circle cx="102" cy="787" r="1.6"/></g>
<g id="b3"><text x="261" y="773">3</text><circle cx="261" cy="773" r="1.6"/></g>
<g id="b68"><text x="57" y="798">68</text><circle cx="57" cy="798" r="1.6"/></g>
<g id="b172"><text x="132" y="793">172</text><circle cx="132" cy="793" r="1.6"/></g>
<g id="b63"><text x="119" y="801">63</text><circle cx="119" cy="801" r="1.6"/></g>
<g id="b5"><text x="191" y="796">5</text><circle cx="191" cy="796" r="1.6"/></g>
<g id="b171"><text x="257" y="797">171</text><circle cx="257" cy="797" r="1.6"/></g>
<g id="b48"><text x="345" y="792">48</text><circle cx="345" cy="792" r="1.6"/></g>
<g id="b24"><text x="270" y="807">24</text><circle cx="270" cy="807" r="1.6"/></g>
<g id="b161"><text x="297" y="808">161</text><circle cx="297" cy="808" r="1.6"/></g>
<g id="b17"><text x="21" y="809">17</text><circle cx="21" cy="809" r="1.6"/></g>
<g id="b152"><text x="102" y="815">152</text><circle cx="102" cy="815" r="1.6"/><circle class="hl red" cx="102" cy="815" r="13"/></g>
<g id="b173"><text x="134" y="813">173</text><circle cx="134" cy="813" r="1.6"/></g>
<g id="b50"><text x="51" y="819">50</text><circle cx="51" cy="819" r="1.6"/></g>
<g id="b116"><text x="187" y="821">116</text><circle cx="187" cy="821" r="1.6"/></g>
<g id="b102"><text x="215" y="819">102</text><circle cx="215" cy="819" r="1.6"/></g>
<g id="b2"><text x="294" y="821">2</text><circle cx="294" cy="821" r="1.6"/></g>
<g id="b155"><text x="115" y="827">155</text><circle cx="115" cy="827" r="1.6"/></g>
<g id="b176"><text x="133" y="827">176</text><circle cx="133" cy="827" r="1.6"/></g>
<g id="b197"><text x="74" y="828">197</text><circle cx="74" cy="828" r="1.6"/></g>
<g id="b47"><text x="337" y="827">47</text><circle cx="337" cy="827" r="1.6"/></g>
<g id="b88"><text x="106" y="831">88</text><circle cx="106" cy="831" r="1.6"/></g>
<g id="b195"><text x="17" y="838">195</text><circle cx="17" cy="838" r="1.6"/></g>
<g id="b54"><text x="176" y="837">54</text><circle cx="176" cy="837" r="1.6"/></g>
<g id="b199"><text x="287" y="841">199</text><circle cx="287" cy="841" r="1.6"/></g>
<g id="b45"><text x="244" y="849">45</text><circle cx="244" cy="849" r="1.6"/></g>
<g id="b36"><text x="261" y="847">36</text><circle cx="261" cy="847" r="1.6"/></g>
<g id="b53"><text x="57" y="857">53</text><circle cx="57" cy="857" r="1.6"/></g>
<g id="b42"><text x="77" y="857">42</text><circle cx="77" cy="857" r="1.6"/></g>
<g id="b118"><text x="147" y="858">118</text><circle cx="147" cy="858" r="1.6"/></g>
<g id="b210"><text x="28" y="865">210</text><circle cx="28" cy="865" r="1.6"/></g>
<g id="b4"><text x="359" y="862">4</text><circle cx="359" cy="862" r="1.6"/></g>
<g id="b7"><text x="273" y="871">7</text><circle cx="273" cy="871" r="1.6"/></g>
<g id="b130"><text x="77" y="877">130</text><circle cx="77" cy="877" r="1.6"/></g>
<g id="b101"><text x="208" y="877">101</text><circle cx="208" cy="877" r="1.6"/></g>
<g id="b125"><text x="235" y="885">125</text><circle cx="235" cy="885" r="1.6"/></g>
<g id="b62"><text x="339" y="884">62</text><circle cx="339" cy="884" r="1.6"/></g>
<g id="b32"><text x="147" y="883">32</text><circle cx="147" cy="883" r="1.6"/></g>
<g id="b128"><text x="281" y="892">128</text><circle cx="281" cy="892" r="1.6"/></g>
<g id="b52"><text x="188" y="893">52</text><circle cx="188" cy="893" r="1.6"/></g>
<g id="b136"><text x="225" y="896">136</text><circle cx="225" cy="896" r="1.6"/></g>
<g id="b43"><text x="150" y="902">43</text><circle cx="150" cy="902" r="1.6"/></g>
<g id="b80"><text x="108" y="904">80</text><circle cx="108" cy="904" r="1.6"/></g>
<g id="b190"><text x="296" y="916">190</text><circle cx="296" cy="916" r="1.6"/></g>
<g id="b169"><text x="348" y="923">169</text><circle cx="348" cy="923" r="1.6"/></g>
<g id="b13"><text x="256" y="924">13</text><circle cx="256" cy="924" r="1.6"/></g>
<g id="b75"><text x="173" y="924">75</text><circle cx="173" cy="924" r="1.6"/></g>
<g id="b41"><text x="218" y="929">41</text><circle cx="218" cy="929" r="1.6"/></g>
<g id="b58"><text x="200" y="939">58</text><circle cx="200" cy="939" r="1.6"/></g>
<g id="b181"><text x="245" y="951">181</text><circle cx="245" cy="951" r="1.6"/></g>
<g id="b135"><text x="318" y="960">135</text><circle cx="318" cy="960" r="1.6"/></g>
<g id="b184"><text x="195" y="972">184</text><circle cx="195" cy="972" r="1.6"/></g>
<g id="b201"><text x="221" y="976">201</text><circle cx="221" cy="976" r="1.6"/></g>
<g id="b38"><text x="248" y="970">38</text><circle cx="248" cy="970" r="1.6"/></g>
<g id="b39"><text x="302" y="978">39</text><circle cx="302" cy="978" r="1.6"/></g>
<g id="b112"><text x="280" y="991">112</text><circle cx="280" cy="991" r="1.6"/></g>
<g id="b205"><text x="467" y="771">205</text><circle cx="467" cy="771" r="1.6"/></g>
<g id="b211"><text x="489" y="774">211</text><circle cx="489" cy="774" r="1.6"/></g>
<g id="b133"><text x="475" y="800">133</text><circle cx="475" cy="800" r="1.6"/></g>
<g id="b177"><text x="470" y="832">177</text><circle cx="470" cy="832" r="1.6"/></g>
</g>

<g id="wordcloud-b" class="wc">
<text class="g" x="785" y="568" font-size="8" textLength="75" lengthAdjust="spacingAndGlyphs">transportation–safety</text>
<text class="g" x="930" y="554" font-size="8" textLength="134" lengthAdjust="spacingAndGlyphs">kullback–leibler–information–criterion</text>
<text class="g" x="937" y="567" font-size="8" textLength="87" lengthAdjust="spacingAndGlyphs">eigenvalue–optimization</text>
<text class="g" x="935" y="576" font-size="8" textLength="132" lengthAdjust="spacingAndGlyphs">doubly–randomized–preference–trial</text>
<text class="g" x="914" y="590" font-size="9.5" textLength="91" lengthAdjust="spacingAndGlyphs">nonparametric–bound</text>
<text class="g" x="928" y="601" font-size="9" textLength="54" lengthAdjust="spacingAndGlyphs">network–flow</text>
<text class="g" x="880" y="613" font-size="11" textLength="93" lengthAdjust="spacingAndGlyphs">rubin–causal–model</text>
<text class="g" x="951" y="610" font-size="8" textLength="44" lengthAdjust="spacingAndGlyphs">chi–squared</text>
<text class="g" x="906" y="623" font-size="11" textLength="98" lengthAdjust="spacingAndGlyphs">integer–programming</text>
<text class="g" x="1001" y="622" font-size="8" textLength="69" lengthAdjust="spacingAndGlyphs">permutation–model</text>
<text class="g" x="894" y="634" font-size="12" textLength="94" lengthAdjust="spacingAndGlyphs">covariate–balance</text>
<text class="g" x="973" y="633" font-size="9" textLength="43" lengthAdjust="spacingAndGlyphs">ignorability</text>
<text class="g" x="876" y="647" font-size="12" textLength="102" lengthAdjust="spacingAndGlyphs">measurement–error</text>
<text class="g" x="974" y="647" font-size="9" textLength="45" lengthAdjust="spacingAndGlyphs">funnel–plot</text>
<text class="g" x="1042" y="648" font-size="8" textLength="61" lengthAdjust="spacingAndGlyphs">synthetic–control</text>
<text class="o" x="867" y="658" font-size="13" textLength="107" lengthAdjust="spacingAndGlyphs">matched–sampling</text>
<text class="g" x="966" y="658" font-size="11" textLength="74" lengthAdjust="spacingAndGlyphs">publication–bias</text>
<text class="g" x="1041" y="663" font-size="8" textLength="47" lengthAdjust="spacingAndGlyphs">survival–time</text>
<text class="p" x="907" y="678" font-size="23" textLength="197" lengthAdjust="spacingAndGlyphs">sensitivity–analysis</text>
<text class="g" x="1048" y="678" font-size="8" textLength="68" lengthAdjust="spacingAndGlyphs">policy–intervention</text>
<text class="g" x="1031" y="694" font-size="8" textLength="61" lengthAdjust="spacingAndGlyphs">biased–sampling</text>
<text class="g" x="1015" y="705" font-size="9" textLength="32" lengthAdjust="spacingAndGlyphs">network</text>
<text class="g" x="1037" y="713" font-size="9" textLength="70" lengthAdjust="spacingAndGlyphs">weak–instrument</text>
<text class="k" x="879" y="708" font-size="29" textLength="221" lengthAdjust="spacingAndGlyphs">propensity–score</text>
<text class="g" x="727" y="712" font-size="11" textLength="71" lengthAdjust="spacingAndGlyphs">noncompliance</text>
<text class="g" x="723" y="721" font-size="10" textLength="48" lengthAdjust="spacingAndGlyphs">time–series</text>
<text class="g" x="717" y="729" font-size="10" textLength="57" lengthAdjust="spacingAndGlyphs">EM–algorithm</text>
<text class="k" x="896" y="735" font-size="29" textLength="275" lengthAdjust="spacingAndGlyphs">instrumental–variable</text>
<text class="y" x="865" y="769" font-size="42" textLength="315" lengthAdjust="spacingAndGlyphs">causal–inference</text>
<text class="g" x="690" y="787" font-size="8" textLength="38" lengthAdjust="spacingAndGlyphs">differential</text>
<text class="g" x="742" y="784" font-size="11" textLength="54" lengthAdjust="spacingAndGlyphs">clinical–trial</text>
<text class="l" x="854" y="797" font-size="31" textLength="125" lengthAdjust="spacingAndGlyphs">matching</text>
<text class="g" x="728" y="798" font-size="11" textLength="72" lengthAdjust="spacingAndGlyphs">normal–mixture</text>
<text class="k" x="818" y="819" font-size="26" textLength="227" lengthAdjust="spacingAndGlyphs">observational–study</text>
<text class="g" x="949" y="780" font-size="8" textLength="14" lengthAdjust="spacingAndGlyphs">bart</text>
<text class="g" x="952" y="792" font-size="11" textLength="17" lengthAdjust="spacingAndGlyphs">mle</text>
<text class="g" x="1011" y="778" font-size="9" textLength="43" lengthAdjust="spacingAndGlyphs">imputation</text>
<text class="g" x="703" y="838" font-size="10" textLength="68" lengthAdjust="spacingAndGlyphs">subclassification</text>
<text class="g" x="707" y="846" font-size="8" textLength="72" lengthAdjust="spacingAndGlyphs">covariate–balancing</text>
<text class="g" x="712" y="853" font-size="8" textLength="68" lengthAdjust="spacingAndGlyphs">bahadur–efficiency</text>
<text class="g" x="774" y="836" font-size="10" textLength="48" lengthAdjust="spacingAndGlyphs">regression</text>
<text class="p" x="822" y="842" font-size="23" textLength="37" lengthAdjust="spacingAndGlyphs">test</text>
<text class="g" x="858" y="837" font-size="8" textLength="17" lengthAdjust="spacingAndGlyphs">epbr</text>
<text class="o" x="932" y="838" font-size="14" textLength="103" lengthAdjust="spacingAndGlyphs">structural–model</text>
<text class="o" x="821" y="857" font-size="18" textLength="134" lengthAdjust="spacingAndGlyphs">treatment–effect</text>
<text class="g" x="934" y="848" font-size="10" textLength="55" lengthAdjust="spacingAndGlyphs">interference</text>
<text class="g" x="928" y="858" font-size="12" textLength="74" lengthAdjust="spacingAndGlyphs">meta–analysis</text>
<text class="g" x="692" y="870" font-size="8" textLength="88" lengthAdjust="spacingAndGlyphs">missingness–at–random</text>
<text class="g" x="819" y="869" font-size="12" textLength="126" lengthAdjust="spacingAndGlyphs">randomization–inference</text>
<text class="g" x="929" y="868" font-size="11" textLength="66" lengthAdjust="spacingAndGlyphs">selection–bias</text>
<text class="g" x="768" y="878" font-size="9" textLength="71" lengthAdjust="spacingAndGlyphs">common–support</text>
<text class="g" x="856" y="881" font-size="12" textLength="94" lengthAdjust="spacingAndGlyphs">potential–outcome</text>
<text class="g" x="938" y="878" font-size="9" textLength="65" lengthAdjust="spacingAndGlyphs">evidence–factor</text>
<text class="g" x="726" y="888" font-size="8" textLength="33" lengthAdjust="spacingAndGlyphs">spillovers</text>
<text class="g" x="945" y="887" font-size="10" textLength="53" lengthAdjust="spacingAndGlyphs">fine–balance</text>
<text class="g" x="807" y="893" font-size="11" textLength="112" lengthAdjust="spacingAndGlyphs">regression–discontinuity</text>
<text class="g" x="890" y="895" font-size="10" textLength="46" lengthAdjust="spacingAndGlyphs">confounder</text>
<text class="g" x="954" y="893" font-size="8" textLength="26" lengthAdjust="spacingAndGlyphs">binning</text>
<text class="g" x="732" y="907" font-size="8" textLength="60" lengthAdjust="spacingAndGlyphs">survey–research</text>
<text class="g" x="815" y="903" font-size="10" textLength="74" lengthAdjust="spacingAndGlyphs">attributable–effect</text>
<text class="g" x="888" y="904" font-size="9" textLength="55" lengthAdjust="spacingAndGlyphs">econometrics</text>
<text class="g" x="951" y="906" font-size="10" textLength="62" lengthAdjust="spacingAndGlyphs">social–network</text>
<text class="g" x="822" y="913" font-size="10" textLength="104" lengthAdjust="spacingAndGlyphs">difference–in–differences</text>
<text class="g" x="927" y="913" font-size="10" textLength="73" lengthAdjust="spacingAndGlyphs">quasi–experiment</text>
<text class="g" x="746" y="919" font-size="8" textLength="111" lengthAdjust="spacingAndGlyphs">metropolis–hastings–algorithm</text>
<text class="g" x="849" y="920" font-size="10" textLength="71" lengthAdjust="spacingAndGlyphs">policy–evaluation</text>
<text class="g" x="827" y="929" font-size="10" textLength="106" lengthAdjust="spacingAndGlyphs">two–stage–least–squares</text>
<text class="g" x="910" y="927" font-size="8" textLength="39" lengthAdjust="spacingAndGlyphs">congestion</text>
<text class="g" x="859" y="938" font-size="8.5" textLength="66" lengthAdjust="spacingAndGlyphs">decennial–census</text>
<text class="g" x="924" y="938" font-size="8.5" textLength="58" lengthAdjust="spacingAndGlyphs">external–validity</text>
<text class="g" x="851" y="946" font-size="8.5" textLength="77" lengthAdjust="spacingAndGlyphs">discrete–time–hazard</text>
<text class="g" x="803" y="957" font-size="8" textLength="135" lengthAdjust="spacingAndGlyphs">hierarchical–random–effect–modeling</text>
<text class="g" x="913" y="953" font-size="8" textLength="69" lengthAdjust="spacingAndGlyphs">multiplicative–effect</text>
<text class="g" x="830" y="965" font-size="8" textLength="155" lengthAdjust="spacingAndGlyphs">stepped–wedge–cluster–randomized–trial;</text>
<text class="g" transform="translate(707,647) rotate(-90)" dy=".35em" font-size="8" textLength="85" lengthAdjust="spacingAndGlyphs">probability–assessment</text>
<text class="g" transform="translate(715,643) rotate(-90)" dy=".35em" font-size="8" textLength="74" lengthAdjust="spacingAndGlyphs">consumption–function</text>
<text class="g" transform="translate(723,667) rotate(-90)" dy=".35em" font-size="9" textLength="48" lengthAdjust="spacingAndGlyphs">randomization</text>
<text class="g" transform="translate(734,678) rotate(-90)" dy=".35em" font-size="9" textLength="23" lengthAdjust="spacingAndGlyphs">probit</text>
<text class="g" transform="translate(731,623) rotate(-90)" dy=".35em" font-size="8" textLength="78" lengthAdjust="spacingAndGlyphs">continuous–treatment</text>
<text class="g" transform="translate(744,645) rotate(-90)" dy=".35em" font-size="9" textLength="93" lengthAdjust="spacingAndGlyphs">dose–response–function</text>
<text class="g" transform="translate(755,676) rotate(-90)" dy=".35em" font-size="8" textLength="32" lengthAdjust="spacingAndGlyphs">calibration</text>
<text class="g" transform="translate(760,617) rotate(-90)" dy=".35em" font-size="9" textLength="45" lengthAdjust="spacingAndGlyphs">missing–data</text>
<text class="g" transform="translate(771,646) rotate(-90)" dy=".35em" font-size="11" textLength="47" lengthAdjust="spacingAndGlyphs">confounding</text>
<text class="g" transform="translate(788,628) rotate(-90)" dy=".35em" font-size="12" textLength="93" lengthAdjust="spacingAndGlyphs">program–evaluation</text>
<text class="g" transform="translate(802,640) rotate(-90)" dy=".35em" font-size="9" textLength="36" lengthAdjust="spacingAndGlyphs">bayesian</text>
<text class="g" transform="translate(813,609) rotate(-90)" dy=".35em" font-size="11" textLength="72" lengthAdjust="spacingAndGlyphs">treatmen–effect</text>
<text class="g" transform="translate(821,616) rotate(-90)" dy=".35em" font-size="10" textLength="28" lengthAdjust="spacingAndGlyphs">MCMC</text>
<text class="g" transform="translate(831,591) rotate(-90)" dy=".35em" font-size="8" textLength="70" lengthAdjust="spacingAndGlyphs">confidence–interval</text>
<text class="g" transform="translate(846,577) rotate(-90)" dy=".35em" font-size="8" textLength="48" lengthAdjust="spacingAndGlyphs">design–effect</text>
<text class="g" transform="translate(674,740) rotate(-90)" dy=".35em" font-size="8" textLength="87" lengthAdjust="spacingAndGlyphs">subjective–probability</text>
<text class="g" transform="translate(682,737) rotate(-90)" dy=".35em" font-size="8" textLength="70" lengthAdjust="spacingAndGlyphs">misspecified–model</text>
<text class="g" transform="translate(928,786) rotate(-90)" dy=".35em" font-size="10" textLength="20" lengthAdjust="spacingAndGlyphs">bias</text>
<text class="g" transform="translate(955,808) rotate(-90)" dy=".35em" font-size="11" textLength="27" lengthAdjust="spacingAndGlyphs">sutva</text>
<text class="g" transform="translate(973,798) rotate(-90)" dy=".35em" font-size="11" textLength="43" lengthAdjust="spacingAndGlyphs">bootstrap</text>
<text class="g" transform="translate(993,848) rotate(-90)" dy=".35em" font-size="13" textLength="123" lengthAdjust="spacingAndGlyphs">randomized–experiment</text>
<text class="g" transform="translate(980,871) rotate(-90)" dy=".35em" font-size="8" textLength="56" lengthAdjust="spacingAndGlyphs">local–efficiency</text>
<text class="g" transform="translate(1010,853) rotate(-90)" dy=".35em" font-size="10" textLength="110" lengthAdjust="spacingAndGlyphs">hodges–lehmann–estimate</text>
<text class="g" transform="translate(1019,834) rotate(-90)" dy=".35em" font-size="8" textLength="65" lengthAdjust="spacingAndGlyphs">body–mass–index</text>
<text class="g" transform="translate(1038,802) rotate(-90)" dy=".35em" font-size="10" textLength="122" lengthAdjust="spacingAndGlyphs">inverse–probability–weighting</text>
<text class="g" transform="translate(1049,780) rotate(-90)" dy=".35em" font-size="8" textLength="58" lengthAdjust="spacingAndGlyphs">survey–analysis</text>
</g>

<g id="edges-c" class="e">
<line x1="216" y1="1073" x2="177" y2="1128"/><line x1="216" y1="1073" x2="250" y2="1117"/><line x1="107" y1="1113" x2="177" y2="1128"/><line x1="177" y1="1128" x2="250" y2="1117"/>
<line x1="250" y1="1117" x2="305" y2="1144"/><line x1="250" y1="1117" x2="245" y2="1178"/><line x1="305" y1="1144" x2="245" y2="1178"/><line x1="107" y1="1113" x2="94" y2="1169"/>
<line x1="94" y1="1169" x2="161" y2="1215"/><line x1="161" y1="1215" x2="220" y2="1256"/><line x1="177" y1="1128" x2="161" y2="1215"/><line x1="161" y1="1215" x2="146" y2="1313"/>
<line x1="245" y1="1178" x2="161" y2="1215"/><line x1="161" y1="1215" x2="82" y2="1234"/><line x1="146" y1="1313" x2="142" y2="1409"/>
<line x1="479" y1="1205" x2="450" y2="1247"/><line x1="450" y1="1247" x2="401" y2="1267"/><line x1="489" y1="1349" x2="462" y2="1395"/><line x1="462" y1="1395" x2="448" y2="1447"/>
<line x1="22" y1="1356" x2="77" y2="1412"/><line x1="13" y1="1427" x2="77" y2="1412"/><line x1="77" y1="1412" x2="142" y2="1409"/><line x1="77" y1="1412" x2="162" y2="1459"/>
<line x1="142" y1="1409" x2="113" y2="1481"/><line x1="142" y1="1409" x2="162" y2="1459"/><line x1="142" y1="1409" x2="211" y2="1459"/><line x1="162" y1="1459" x2="113" y2="1481"/>
<line x1="162" y1="1459" x2="251" y2="1428"/><line x1="251" y1="1428" x2="319" y2="1407"/><line x1="251" y1="1428" x2="211" y2="1459"/><line x1="211" y1="1459" x2="226" y2="1518"/>
<line x1="162" y1="1459" x2="226" y2="1518"/><line x1="226" y1="1518" x2="296" y2="1543"/><line x1="296" y1="1543" x2="358" y2="1537"/>
</g>

<g id="nodes-c" class="n">
<g id="c37"><text x="216" y="1073">37</text><circle cx="216" cy="1073" r="1.6"/></g>
<g id="c85"><text x="107" y="1113">85</text><circle cx="107" cy="1113" r="1.6"/></g>
<g id="c101"><text x="250" y="1117">101</text><circle cx="250" cy="1117" r="1.6"/></g>
<g id="c66"><text x="412" y="1117">66</text><circle cx="412" cy="1117" r="1.6"/></g>
<g id="c89"><text x="177" y="1128">89</text><circle cx="177" cy="1128" r="1.6"/></g>
<g id="c105"><text x="305" y="1144">105</text><circle cx="305" cy="1144" r="1.6"/></g>
<g id="c86"><text x="94" y="1169">86</text><circle cx="94" cy="1169" r="1.6"/></g>
<g id="c72"><text x="245" y="1178">72</text><circle cx="245" cy="1178" r="1.6"/></g>
<g id="c39"><text x="479" y="1205">39</text><circle cx="479" cy="1205" r="1.6"/></g>
<g id="c35"><text x="161" y="1215">35</text><circle cx="161" cy="1215" r="1.6"/><rect class="hl blue" x="147" y="1207" width="28" height="18"/></g>
<g id="c119"><text x="82" y="1234">119</text><circle cx="82" cy="1234" r="1.6"/></g>
<g id="c88"><text x="220" y="1256">88</text><circle cx="220" cy="1256" r="1.6"/></g>
<g id="c114"><text x="450" y="1247">114</text><circle cx="450" cy="1247" r="1.6"/></g>
<g id="c40"><text x="401" y="1267">40</text><circle cx="401" cy="1267" r="1.6"/></g>
<g id="c84"><text x="146" y="1313">84</text><circle cx="146" cy="1313" r="1.6"/></g>
<g id="c46"><text x="489" y="1349">46</text><circle cx="489" cy="1349" r="1.6"/></g>
<g id="c1"><text x="22" y="1356">1</text><circle cx="22" cy="1356" r="1.6"/></g>
<g id="c51"><text x="462" y="1395">51</text><circle cx="462" cy="1395" r="1.6"/></g>
<g id="c131"><text x="142" y="1409">131</text><circle cx="142" cy="1409" r="1.6"/></g>
<g id="c132"><text x="319" y="1407">132</text><circle cx="319" cy="1407" r="1.6"/></g>
<g id="c142"><text x="77" y="1412">142</text><circle cx="77" cy="1412" r="1.6"/></g>
<g id="c59"><text x="13" y="1427">59</text><circle cx="13" cy="1427" r="1.6"/></g>
<g id="c126"><text x="251" y="1428">126</text><circle cx="251" cy="1428" r="1.6"/></g>
<g id="c42"><text x="448" y="1447">42</text><circle cx="448" cy="1447" r="1.6"/></g>
<g id="c141"><text x="162" y="1459">141</text><circle cx="162" cy="1459" r="1.6"/><circle class="hl red" cx="162" cy="1459" r="14"/></g>
<g id="c4"><text x="211" y="1459">4</text><circle cx="211" cy="1459" r="1.6"/></g>
<g id="c146"><text x="113" y="1481">146</text><circle cx="113" cy="1481" r="1.6"/></g>
<g id="c117"><text x="226" y="1518">117</text><circle cx="226" cy="1518" r="1.6"/></g>
<g id="c97"><text x="296" y="1543">97</text><circle cx="296" cy="1543" r="1.6"/></g>
<g id="c96"><text x="358" y="1537">96</text><circle cx="358" cy="1537" r="1.6"/></g>
</g>

<g id="wordcloud-c" class="wc">
<text class="g" x="830" y="1101" font-size="9.5" textLength="99" lengthAdjust="spacingAndGlyphs">transition–probability;</text>
<text class="g" x="941" y="1104" font-size="9.5" textLength="84" lengthAdjust="spacingAndGlyphs">time–to–extinction</text>
<text class="g" x="771" y="1116" font-size="10" textLength="97" lengthAdjust="spacingAndGlyphs">variance–component</text>
<text class="g" x="897" y="1116" font-size="10" textLength="110" lengthAdjust="spacingAndGlyphs">secondary–attack–rate;</text>
<text class="g" x="877" y="1129" font-size="10" textLength="133" lengthAdjust="spacingAndGlyphs">quasi–stationary–distribution</text>
<text class="g" x="909" y="1139" font-size="10" textLength="142" lengthAdjust="spacingAndGlyphs">metropolis–hastings–algorithm</text>
<text class="g" x="894" y="1152" font-size="10" textLength="156" lengthAdjust="spacingAndGlyphs">conditional–independence–model</text>
<text class="g" x="862" y="1163" font-size="10" textLength="131" lengthAdjust="spacingAndGlyphs">basic–reproduction–number</text>
<text class="g" x="1019" y="1167" font-size="10" textLength="103" lengthAdjust="spacingAndGlyphs">structured–community</text>
<text class="g" x="800" y="1176" font-size="10" textLength="74" lengthAdjust="spacingAndGlyphs">dynami–system</text>
<text class="o" x="900" y="1177" font-size="13" textLength="121" lengthAdjust="spacingAndGlyphs">state–space–model</text>
<text class="g" x="1025" y="1181" font-size="10" textLength="101" lengthAdjust="spacingAndGlyphs">transformation–model</text>
<text class="o" x="928" y="1193" font-size="14" textLength="162" lengthAdjust="spacingAndGlyphs">quasilikelihood–estimation</text>
<text class="o" x="890" y="1212" font-size="14" textLength="159" lengthAdjust="spacingAndGlyphs">generalized–linear–model</text>
<text class="g" x="1028" y="1215" font-size="10" textLength="100" lengthAdjust="spacingAndGlyphs">principal–stratification</text>
<text class="o" x="897" y="1227" font-size="14" textLength="119" lengthAdjust="spacingAndGlyphs">data–augmentation</text>
<text class="g" x="1006" y="1226" font-size="10" textLength="85" lengthAdjust="spacingAndGlyphs">infectivity–function</text>
<text class="g" x="701" y="1236" font-size="10" textLength="48" lengthAdjust="spacingAndGlyphs">smoothing</text>
<text class="g" x="815" y="1233" font-size="10" textLength="27" lengthAdjust="spacingAndGlyphs">graph</text>
<text class="g" x="845" y="1239" font-size="9" textLength="13" lengthAdjust="spacingAndGlyphs">sir</text>
<text class="o" x="890" y="1242" font-size="14" textLength="73" lengthAdjust="spacingAndGlyphs">consistency</text>
<text class="g" x="972" y="1237" font-size="10" textLength="75" lengthAdjust="spacingAndGlyphs">community–size</text>
<text class="g" x="679" y="1255" font-size="10" textLength="82" lengthAdjust="spacingAndGlyphs">simulation–model</text>
<text class="g" x="1006" y="1250" font-size="10" textLength="61" lengthAdjust="spacingAndGlyphs">mixed–model</text>
<text class="g" x="688" y="1263" font-size="10" textLength="71" lengthAdjust="spacingAndGlyphs">one–way–array</text>
<text class="o" x="871" y="1256" font-size="14" textLength="90" lengthAdjust="spacingAndGlyphs">latent–variable</text>
<text class="g" x="1008" y="1260" font-size="10" textLength="67" lengthAdjust="spacingAndGlyphs">gold–standard</text>
<text class="g" x="687" y="1275" font-size="10" textLength="78" lengthAdjust="spacingAndGlyphs">nonlinear–model</text>
<text class="p" x="854" y="1277" font-size="24" textLength="152" lengthAdjust="spacingAndGlyphs">point–process</text>
<text class="g" x="1032" y="1275" font-size="10" textLength="67" lengthAdjust="spacingAndGlyphs">nonparametric</text>
<text class="g" x="803" y="1289" font-size="10" textLength="53" lengthAdjust="spacingAndGlyphs">bio–logging</text>
<text class="g" x="722" y="1294" font-size="10" textLength="58" lengthAdjust="spacingAndGlyphs">downscaling</text>
<text class="o" x="880" y="1297" font-size="14" textLength="91" lengthAdjust="spacingAndGlyphs">clustered–data</text>
<text class="g" x="1012" y="1292" font-size="10" textLength="41" lengthAdjust="spacingAndGlyphs">multitype</text>
<text class="g" x="708" y="1307" font-size="10" textLength="84" lengthAdjust="spacingAndGlyphs">gaussian–process</text>
<text class="g" x="701" y="1317" font-size="10" textLength="93" lengthAdjust="spacingAndGlyphs">estimating–equation</text>
<text class="g" x="1043" y="1304" font-size="10" textLength="53" lengthAdjust="spacingAndGlyphs">time–series</text>
<text class="g" x="1053" y="1314" font-size="10" textLength="51" lengthAdjust="spacingAndGlyphs">vaccination</text>
<text class="g" x="724" y="1327" font-size="10" textLength="43" lengthAdjust="spacingAndGlyphs">explosion</text>
<text class="y" x="865" y="1330" font-size="42" textLength="130" lengthAdjust="spacingAndGlyphs">MCMC</text>
<text class="g" x="707" y="1338" font-size="10" textLength="67" lengthAdjust="spacingAndGlyphs">meta–analysis</text>
<text class="g" x="723" y="1349" font-size="10" textLength="48" lengthAdjust="spacingAndGlyphs">household</text>
<text class="k" x="844" y="1353" font-size="27" textLength="89" lengthAdjust="spacingAndGlyphs">filtering</text>
<text class="g" x="714" y="1359" font-size="10" textLength="42" lengthAdjust="spacingAndGlyphs">infectivity</text>
<text class="g" x="720" y="1370" font-size="10" textLength="51" lengthAdjust="spacingAndGlyphs">SIR–model</text>
<text class="g" x="713" y="1378" font-size="10" textLength="61" lengthAdjust="spacingAndGlyphs">missing–data</text>
<text class="g" x="852" y="1370" font-size="10" textLength="19" lengthAdjust="spacingAndGlyphs">data</text>
<text class="g" x="946" y="1392" font-size="10" textLength="28" lengthAdjust="spacingAndGlyphs">model</text>
<text class="o" x="756" y="1395" font-size="14" textLength="92" lengthAdjust="spacingAndGlyphs">social–network</text>
<text class="g" x="777" y="1406" font-size="10" textLength="79" lengthAdjust="spacingAndGlyphs">causal–inference</text>
<text class="g" x="730" y="1417" font-size="10" textLength="41" lengthAdjust="spacingAndGlyphs">outbreak</text>
<text class="g" x="790" y="1414" font-size="10" textLength="35" lengthAdjust="spacingAndGlyphs">efficacy</text>
<text class="g" x="747" y="1425" font-size="10" textLength="121" lengthAdjust="spacingAndGlyphs">conditional–independence</text>
<text class="g" x="782" y="1436" font-size="10" textLength="68" lengthAdjust="spacingAndGlyphs">epidemic–data</text>
<text class="g" x="764" y="1454" font-size="10" textLength="154" lengthAdjust="spacingAndGlyphs">generalized–estimating–equation</text>
<text class="g" x="764" y="1465" font-size="10" textLength="104" lengthAdjust="spacingAndGlyphs">malthusian–parameter</text>
<text class="g" x="820" y="1475" font-size="10" textLength="101" lengthAdjust="spacingAndGlyphs">importance–sampling</text>
<text class="g" x="814" y="1488" font-size="10" textLength="125" lengthAdjust="spacingAndGlyphs">infectious–disease–models</text>
<text class="g" x="821" y="1497" font-size="10" textLength="88" lengthAdjust="spacingAndGlyphs">partial–observation</text>
<text class="g" x="715" y="1507" font-size="10" textLength="112" lengthAdjust="spacingAndGlyphs">transmission–parameter</text>
<text class="g" x="843" y="1507" font-size="10" textLength="100" lengthAdjust="spacingAndGlyphs">random–effect–model</text>
<text class="g" x="779" y="1518" font-size="10" textLength="104" lengthAdjust="spacingAndGlyphs">state–space–modeling</text>
<text class="g" x="818" y="1532" font-size="10" textLength="133" lengthAdjust="spacingAndGlyphs">stochastic–epidemic–models</text>
<text class="g" transform="translate(724,1185) rotate(-90)" dy=".35em" font-size="10" textLength="83" lengthAdjust="spacingAndGlyphs">sums–of–squares</text>
<text class="g" transform="translate(735,1238) rotate(-90)" dy=".35em" font-size="10" textLength="87" lengthAdjust="spacingAndGlyphs">hierarchical–model</text>
<text class="g" transform="translate(744,1230) rotate(-90)" dy=".35em" font-size="10" textLength="80" lengthAdjust="spacingAndGlyphs">hierarchical–data</text>
<text class="g" transform="translate(751,1245) rotate(-90)" dy=".35em" font-size="10" textLength="50" lengthAdjust="spacingAndGlyphs">hierarchical</text>
<text class="g" transform="translate(755,1178) rotate(-90)" dy=".35em" font-size="10" textLength="68" lengthAdjust="spacingAndGlyphs">random–graph</text>
<text class="g" transform="translate(777,1145) rotate(-90)" dy=".35em" font-size="10" textLength="43" lengthAdjust="spacingAndGlyphs">threshold</text>
<text class="g" transform="translate(782,1215) rotate(-90)" dy=".35em" font-size="10" textLength="50" lengthAdjust="spacingAndGlyphs">forecasting</text>
<text class="g" transform="translate(793,1216) rotate(-90)" dy=".35em" font-size="10" textLength="69" lengthAdjust="spacingAndGlyphs">diagnostic–test</text>
<text class="p" transform="translate(763,1302) rotate(-90)" dy=".35em" font-size="20" textLength="152" lengthAdjust="spacingAndGlyphs">epidemic–model</text>
<text class="o" transform="translate(783,1332) rotate(-90)" dy=".35em" font-size="17" textLength="71" lengthAdjust="spacingAndGlyphs">epidemic</text>
<text class="o" transform="translate(832,1402) rotate(-90)" dy=".35em" font-size="17" textLength="72" lengthAdjust="spacingAndGlyphs">bootstrap</text>
<text class="o" transform="translate(856,1420) rotate(-90)" dy=".35em" font-size="17" textLength="82" lengthAdjust="spacingAndGlyphs">martingale</text>
<text class="o" transform="translate(875,1400) rotate(-90)" dy=".35em" font-size="14" textLength="60" lengthAdjust="spacingAndGlyphs">clustering</text>
<text class="o" transform="translate(888,1418) rotate(-90)" dy=".35em" font-size="14" textLength="103" lengthAdjust="spacingAndGlyphs">incomplete–data</text>
<text class="p" transform="translate(907,1391) rotate(-90)" dy=".35em" font-size="20" textLength="85" lengthAdjust="spacingAndGlyphs">likelihood</text>
<text class="o" transform="translate(924,1386) rotate(-90)" dy=".35em" font-size="14" textLength="72" lengthAdjust="spacingAndGlyphs">martingales</text>
<text class="l" transform="translate(948,1316) rotate(-90)" dy=".35em" font-size="30" textLength="122" lengthAdjust="spacingAndGlyphs">bayesian</text>
<text class="o" transform="translate(979,1372) rotate(-90)" dy=".35em" font-size="18" textLength="198" lengthAdjust="spacingAndGlyphs">birth–and–death–process</text>
<text class="g" transform="translate(902,1502) rotate(-90)" dy=".35em" font-size="10" textLength="67" lengthAdjust="spacingAndGlyphs">subdistribution</text>
<text class="g" transform="translate(912,1486) rotate(-90)" dy=".35em" font-size="10" textLength="88" lengthAdjust="spacingAndGlyphs">sensitivity–analysis</text>
<text class="g" transform="translate(925,1455) rotate(-90)" dy=".35em" font-size="10" textLength="47" lengthAdjust="spacingAndGlyphs">parameter</text>
<text class="g" transform="translate(936,1438) rotate(-90)" dy=".35em" font-size="10" textLength="72" lengthAdjust="spacingAndGlyphs">final–size–data</text>
<text class="g" transform="translate(946,1447) rotate(-90)" dy=".35em" font-size="10" textLength="96" lengthAdjust="spacingAndGlyphs">multivariate–analysis</text>
<text class="g" transform="translate(962,1456) rotate(-90)" dy=".35em" font-size="10" textLength="102" lengthAdjust="spacingAndGlyphs">persistence–threshold</text>
<text class="g" transform="translate(997,1352) rotate(-90)" dy=".35em" font-size="10" textLength="90" lengthAdjust="spacingAndGlyphs">estimating–function</text>
<text class="g" transform="translate(998,1440) rotate(-90)" dy=".35em" font-size="10" textLength="47" lengthAdjust="spacingAndGlyphs">stochastic</text>
<text class="g" transform="translate(1010,1357) rotate(-90)" dy=".35em" font-size="10" textLength="105" lengthAdjust="spacingAndGlyphs">heteroskedastic–model</text>
<text class="g" transform="translate(1021,1407) rotate(-90)" dy=".35em" font-size="10" textLength="157" lengthAdjust="spacingAndGlyphs">parameter–estimation–self–tuning</text>
<text class="g" transform="translate(1032,1365) rotate(-90)" dy=".35em" font-size="10" textLength="80" lengthAdjust="spacingAndGlyphs">robust–estimation</text>
<text class="g" transform="translate(1040,1399) rotate(-90)" dy=".35em" font-size="10" textLength="92" lengthAdjust="spacingAndGlyphs">stochastic–fade–out</text>
<text class="g" transform="translate(1050,1362) rotate(-90)" dy=".35em" font-size="10" textLength="58" lengthAdjust="spacingAndGlyphs">susceptibility</text>
<text class="g" transform="translate(1060,1361) rotate(-90)" dy=".35em" font-size="10" textLength="78" lengthAdjust="spacingAndGlyphs">unbalanced–data</text>
</g>
</svg>
